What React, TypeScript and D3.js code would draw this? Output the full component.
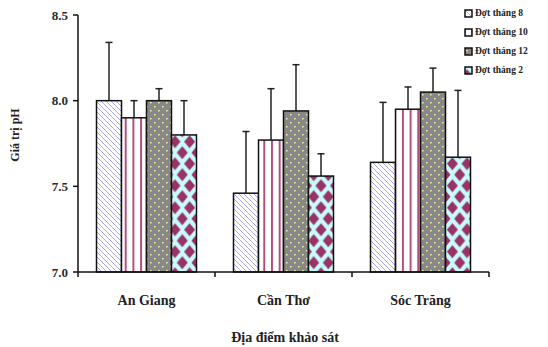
import React from 'react';
import * as d3 from 'd3';

const categories = ['An Giang', 'Cần Thơ', 'Sóc Trăng'];
const seriesNames = ['Đợt tháng 8', 'Đợt tháng 10', 'Đợt tháng 12', 'Đợt tháng 2'];

const thang8 = [8.0, 7.46, 7.64];
const thang10 = [7.9, 7.77, 7.95];
const thang12 = [8.0, 7.94, 8.05];
const thang2 = [7.8, 7.56, 7.67];

const err8 = [0.34, 0.36, 0.35];
const err10 = [0.1, 0.3, 0.13];
const err12 = [0.07, 0.27, 0.14];
const err2 = [0.2, 0.13, 0.39];

const yTicks = [7.0, 7.5, 8.0, 8.5];

const means = [thang8, thang10, thang12, thang2];
const errs = [err8, err10, err12, err2];
const fills = ['url(#p8)', 'url(#p10)', 'url(#p12)', 'url(#p2)'];

const App = () => {
  const font = '"Liberation Serif", "Times New Roman", serif';

  const x = d3.scaleBand().domain(categories).range([78, 489]).padding(0);
  const xs = d3
    .scaleBand()
    .domain(seriesNames)
    .range([18.5, x.bandwidth() - 18.5])
    .padding(0);
  const y = d3.scaleLinear().domain([7, 8.5]).range([272, 15]);

  return (
    <svg
      width={548}
      height={347}
      style={{ position: 'absolute', left: 0, top: 0, background: '#fff' }}
      fontFamily={font}
    >
      <defs>
        <pattern id="p8" width={5} height={5} patternUnits="userSpaceOnUse">
          <rect width={5} height={5} fill="#fff" />
          <path d="M-1,-1 L6,6 M-1,4 L1,6 M4,-1 L6,1" stroke="#a6a6f2" strokeWidth={1} />
        </pattern>
        <pattern id="p10" width={7.7} height={10} patternUnits="userSpaceOnUse" x={1.5}>
          <rect width={7.7} height={10} fill="#fff" />
          <rect x={0} width={2} height={10} fill="#b0507e" />
        </pattern>
        <pattern id="p12" width={8} height={8} patternUnits="userSpaceOnUse">
          <rect width={8} height={8} fill="#888" />
          <rect x={2} y={2} width={1.6} height={1.4} fill="#f2f0a8" />
          <rect x={6} y={6} width={1.6} height={1.4} fill="#f2f0a8" />
        </pattern>
        <pattern id="p2" width={14.6} height={22} patternUnits="userSpaceOnUse" x={7.1} y={-1.3}>
          <rect width={14.6} height={22} fill="#c8fbfb" />
          <path
            d="M7.3,4.5 L12.8,11 L7.3,17.5 L1.8,11 Z M0,-6.5 L5.5,0 L0,6.5 L-5.5,0 Z M14.6,-6.5 L20.1,0 L14.6,6.5 L9.1,0 Z M0,15.5 L5.5,22 L0,28.5 L-5.5,22 Z M14.6,15.5 L20.1,22 L14.6,28.5 L9.1,22 Z"
            fill="#993366"
          />
        </pattern>
      </defs>

      {categories.map((c, ci) =>
        seriesNames.map((s, si) => {
          const bx = (x(c) ?? 0) + (xs(s) ?? 0);
          const bw = xs.bandwidth();
          const v = means[si][ci];
          const top = y(v);
          const eTop = y(v + errs[si][ci]);
          const cx = bx + bw / 2;
          return (
            <g key={c + s}>
              <line x1={cx} x2={cx} y1={top} y2={eTop} stroke="#222" strokeWidth={1.5} />
              <line x1={cx - 3.5} x2={cx + 3.5} y1={eTop} y2={eTop} stroke="#222" strokeWidth={1.5} />
              <rect
                x={bx}
                y={top}
                width={bw}
                height={y(7) - top}
                fill={fills[si]}
                stroke="#111"
                strokeWidth={1.5}
              />
            </g>
          );
        })
      )}

      {/* y axis */}
      <line x1={78} x2={78} y1={y(8.5)} y2={y(7)} stroke="#111" strokeWidth={1.5} />
      {yTicks.map((t) => (
        <g key={t}>
          <line x1={73} x2={78} y1={y(t)} y2={y(t)} stroke="#111" strokeWidth={1.5} />
          <text
            x={68}
            y={y(t)}
            dy="0.35em"
            textAnchor="end"
            fontSize={13}
            fontWeight="bold"
            fill="#2a2a2a"
          >
            {t.toFixed(1)}
          </text>
        </g>
      ))}

      {/* x axis */}
      <line x1={78} x2={489} y1={y(7)} y2={y(7)} stroke="#111" strokeWidth={1.5} />
      {[...categories.map((c) => x(c) ?? 0), 489].map((t, i) => (
        <line key={i} x1={t} x2={t} y1={y(7)} y2={y(7) + 5} stroke="#111" strokeWidth={1.5} />
      ))}
      {categories.map((c) => (
        <text
          key={c}
          x={(x(c) ?? 0) + x.bandwidth() / 2}
          y={305}
          textAnchor="middle"
          fontSize={14}
          fontWeight="bold"
          fill="#222"
        >
          {c}
        </text>
      ))}

      <text x={285} y={342} textAnchor="middle" fontSize={14} fontWeight="bold" fill="#222">
        Địa điểm khảo sát
      </text>
      <text
        transform="translate(19,135) rotate(-90)"
        textAnchor="middle"
        fontSize={12}
        fontWeight="bold"
        fill="#222"
      >
        Giá trị pH
      </text>

      {/* legend */}
      {seriesNames.map((s, i) => {
        const ly = 13 + i * 19;
        return (
          <g key={s}>
            <rect x={465} y={ly - 3} width={7} height={7} fill={fills[i]} stroke="#111" strokeWidth={1.5} />
            <text x={475} y={ly} dy="0.3em" fontSize={9.5} fontWeight="bold" fill="#222">
              {s}
            </text>
          </g>
        );
      })}
    </svg>
  );
};

export default App;
